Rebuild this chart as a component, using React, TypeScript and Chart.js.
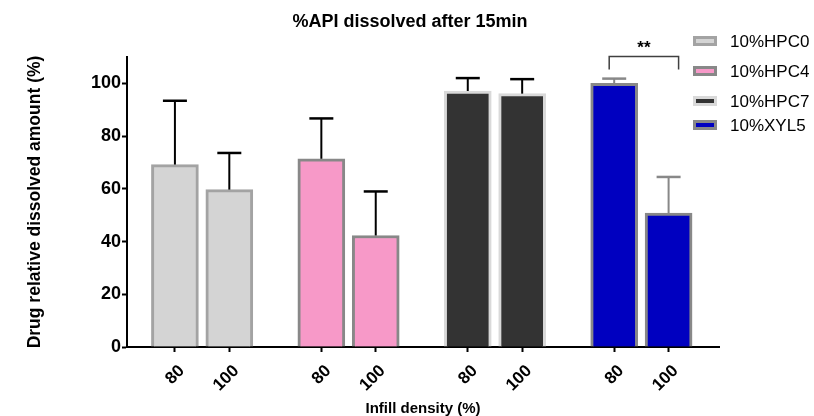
import { useEffect, useRef } from 'react';
import { Chart, registerables } from 'chart.js';

Chart.register(...registerables);

// ---- data ----
const TITLE = '%API dissolved after 15min';
const X_TITLE = 'Infill density (%)';
const Y_TITLE = 'Drug relative dissolved amount (%)';
const SERIES = ['10%HPC0', '10%HPC4', '10%HPC7', '10%XYL5'];
const INFILL_LABELS = ['80', '100'];
const HPC0 = [69.2, 59.7];
const HPC0_SD = [24.2, 13.9];
const HPC4 = [71.4, 42.3];
const HPC4_SD = [15.3, 16.7];
const HPC7 = [97.1, 96.1];
const HPC7_SD = [4.9, 5.5];
const XYL5 = [100.0, 50.8];
const XYL5_SD = [1.8, 13.7];
const Y_TICKS = [0, 20, 40, 60, 80, 100];
const SIG_LABEL = '**';

const VALUES = [HPC0, HPC4, HPC7, XYL5];
const SDS = [HPC0_SD, HPC4_SD, HPC7_SD, XYL5_SD];

// ---- styles ----
const FILL = ['#d4d4d4', '#f799c8', '#333333', '#0000c0'];
const BORDER = ['#a3a3a3', '#888888', '#d9d9d9', '#888888'];
const ERR_COLOR = ['#000000', '#000000', '#000000', '#888888'];
const FONT = '"Liberation Sans", Arial, sans-serif';
const BAR_OFFSET = 0.3715; // distance between 80/100 bars in group units
const LEGEND_ROWS = [41, 71, 101, 125];

const xPos = (g: number, i: number) => g + (i - 0.5) * BAR_OFFSET;

const TICK_POSITIONS: number[] = [];
const TICK_TEXT: string[] = [];
SERIES.forEach((_, g) => INFILL_LABELS.forEach((lab, i) => { TICK_POSITIONS.push(xPos(g, i)); TICK_TEXT.push(lab); }));

const extrasPlugin = {
  id: 'extras',
  afterDatasetsDraw(chart: any) {
    const ctx = chart.ctx;
    const xs = chart.scales.x;
    const ys = chart.scales.y;
    ctx.save();
    // error bars (upper only)
    SERIES.forEach((_, g) => {
      VALUES[g].forEach((v, i) => {
        const px = xs.getPixelForValue(xPos(g, i));
        const yTop = ys.getPixelForValue(v);
        const yErr = ys.getPixelForValue(v + SDS[g][i]);
        ctx.strokeStyle = ERR_COLOR[g];
        ctx.lineWidth = 2;
        ctx.beginPath();
        ctx.moveTo(px, yTop);
        ctx.lineTo(px, yErr);
        ctx.stroke();
        ctx.lineWidth = 2.5;
        ctx.beginPath();
        ctx.moveTo(px - 12, yErr);
        ctx.lineTo(px + 12, yErr);
        ctx.stroke();
      });
    });
    // significance bracket between XYL5 bars
    const bl = xs.getPixelForValue(xPos(3, 0)) - 5;
    const br = xs.getPixelForValue(xPos(3, 1)) + 10;
    const bt = ys.getPixelForValue(110.2);
    const bb = ys.getPixelForValue(105.3);
    ctx.strokeStyle = '#404040';
    ctx.lineWidth = 1.5;
    ctx.beginPath();
    ctx.moveTo(bl, bb);
    ctx.lineTo(bl, bt);
    ctx.lineTo(br, bt);
    ctx.lineTo(br, bb);
    ctx.stroke();
    ctx.fillStyle = '#000';
    ctx.font = `bold 17px ${FONT}`;
    ctx.textAlign = 'center';
    ctx.textBaseline = 'alphabetic';
    ctx.fillText(SIG_LABEL, (bl + br) / 2, 53);
    ctx.restore();
  },
  afterDraw(chart: any) {
    const ctx = chart.ctx;
    ctx.save();
    // title
    ctx.fillStyle = '#000';
    ctx.font = `bold 18px ${FONT}`;
    ctx.textAlign = 'center';
    ctx.textBaseline = 'middle';
    ctx.fillText(TITLE, 410, 22);
    // legend
    SERIES.forEach((name, g) => {
      const cy = LEGEND_ROWS[g];
      ctx.fillStyle = BORDER[g];
      ctx.fillRect(693, cy - 5, 24, 10);
      ctx.fillStyle = FILL[g];
      ctx.fillRect(696, cy - 2, 18, 4);
      ctx.fillStyle = '#000';
      ctx.font = `17px ${FONT}`;
      ctx.textAlign = 'left';
      ctx.textBaseline = 'middle';
      ctx.fillText(name, 730, cy + 1);
    });
    ctx.restore();
  },
};

export default function App() {
  const ref = useRef<HTMLCanvasElement>(null);
  useEffect(() => {
    if (!ref.current) return;
    const datasets = SERIES.map((name, g) => ({
      label: name,
      data: VALUES[g].map((v, i) => ({ x: xPos(g, i), y: v })),
      backgroundColor: FILL[g],
      borderColor: BORDER[g],
      borderWidth: 3,
      borderSkipped: 'bottom' as const,
      barThickness: 47,
      grouped: false,
    }));
    const chart = new Chart(ref.current, {
      type: 'bar',
      data: { datasets },
      plugins: [extrasPlugin],
      options: {
        responsive: false,
        animation: false,
        layout: { padding: { top: 57, right: 95, left: 0, bottom: 0 } },
        plugins: { legend: { display: false }, tooltip: { enabled: false }, title: { display: false } },
        scales: {
          x: {
            type: 'linear',
            offset: false,
            min: -0.513,
            max: 3.53,
            afterBuildTicks: (s: any) => { s.ticks = TICK_POSITIONS.map((v) => ({ value: v })); },
            afterFit: (s: any) => { s.height = 69; },
            ticks: {
              autoSkip: false,
              minRotation: 45,
              maxRotation: 45,
              color: '#000',
              padding: 9,
              labelOffset: 7,
              font: { family: FONT, size: 17, weight: 'bold' },
              callback: (_v: any, i: number) => TICK_TEXT[i],
            },
            grid: { offset: false, drawOnChartArea: false, drawTicks: true, tickLength: 5, tickWidth: 2, tickColor: '#000' },
            border: { display: true, color: '#000', width: 2 },
            title: {
              display: true,
              text: X_TITLE,
              color: '#000',
              font: { family: FONT, size: 15, weight: 'bold', lineHeight: 1 },
              padding: { top: 0, bottom: 0 },
            },
          },
          y: {
            type: 'linear',
            min: 0,
            max: 110,
            afterBuildTicks: (s: any) => { s.ticks = Y_TICKS.map((v) => ({ value: v })); },
            afterFit: (s: any) => { s.width = 127; },
            ticks: {
              color: '#000',
              padding: 1,
              font: { family: FONT, size: 18, weight: 'bold' },
            },
            grid: { drawOnChartArea: false, drawTicks: true, tickLength: 5, tickWidth: 2, tickColor: '#000' },
            border: { display: true, color: '#000', width: 2 },
            title: {
              display: true,
              text: Y_TITLE,
              color: '#000',
              font: { family: FONT, size: 17.5, weight: 'bold', lineHeight: 1.2 },
              padding: { top: 25, bottom: 0 },
            },
          },
        },
      },
    } as any);
    return () => chart.destroy();
  }, []);
  return (
    <div style={{ position: 'absolute', left: 0, top: 0, width: 814, height: 416, background: '#fff' }}>
      <canvas ref={ref} width={814} height={416} style={{ display: 'block' }} />
    </div>
  );
}
